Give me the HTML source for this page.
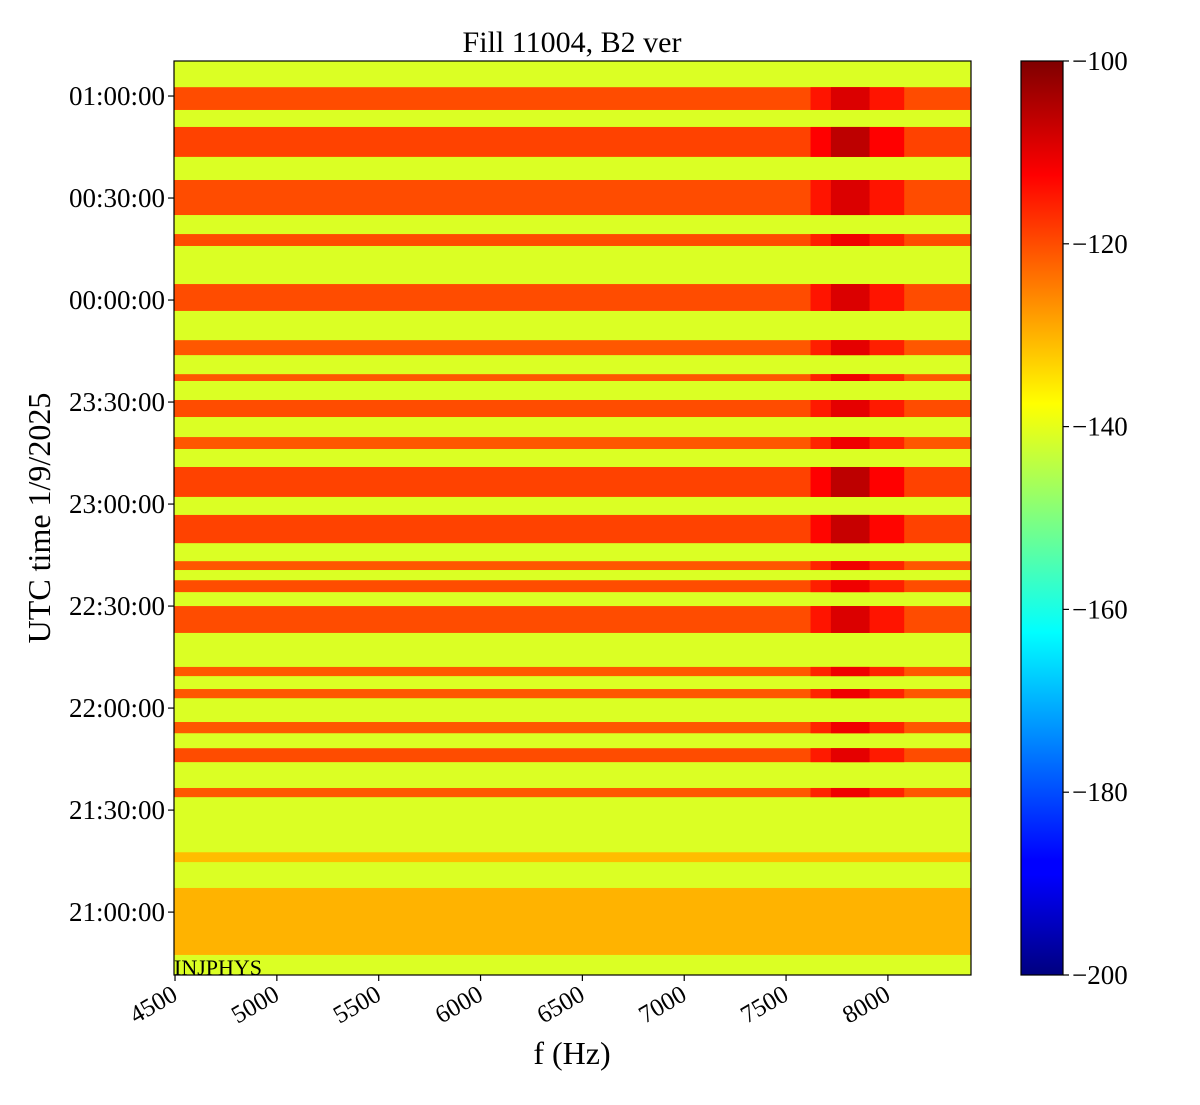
<!DOCTYPE html>
<html><head><meta charset="utf-8"><style>
body{margin:0;background:#fff;}
svg text{font-family:"Liberation Serif","DejaVu Serif",serif;}
</style></head><body>
<svg id="chart" width="1200" height="1100" viewBox="0 0 1200 1100" xmlns="http://www.w3.org/2000/svg">
<defs>
<linearGradient id="jet" x1="0" y1="1" x2="0" y2="0">
<stop offset="0" stop-color="#00007f"/><stop offset="0.11" stop-color="#0000ff"/>
<stop offset="0.125" stop-color="#0000ff"/><stop offset="0.375" stop-color="#00ffff"/>
<stop offset="0.625" stop-color="#ffff00"/><stop offset="0.875" stop-color="#ff0000"/>
<stop offset="1" stop-color="#7f0000"/>
</linearGradient>
<clipPath id="pc"><rect x="174" y="61" width="797" height="914"/></clipPath>
</defs>
<g id="plot" clip-path="url(#pc)"></g>
<rect x="174" y="61" width="797" height="914" fill="none" stroke="#000" stroke-width="1.2"/>
<g id="axes"></g>
<text x="572" y="52" font-size="30" text-anchor="middle">Fill 11004, B2 ver</text>
<text x="572" y="1064" font-size="32" text-anchor="middle">f (Hz)</text>
<text transform="translate(50,518) rotate(-90)" font-size="32" text-anchor="middle">UTC time 1/9/2025</text>
<text x="174" y="975" font-size="22">INJPHYS</text>
<rect x="1021" y="61" width="42" height="914" fill="url(#jet)" stroke="#000" stroke-width="1.2"/>
</svg>
<script>
// data: time in minutes since 20:00 UTC
const bandStart = [295.9,282.1,265.0,255.9,236.8,223.8,216.2,205.6,196.2,182.1,168.5,160.6,154.1,142.1,129.4,122.9,112.6,104.1,93.8,74.7,47.4];
const bandEnd   = [302.6,290.9,275.3,259.4,244.7,228.2,218.2,210.6,199.7,190.9,176.8,163.2,157.6,150.0,132.1,125.6,115.9,108.2,96.5,77.6,67.1];
const bandLevel = [-120,-119,-120,-120,-120,-121,-121,-120,-121,-119,-119,-121,-120,-120,-121,-121,-121,-120,-121,-131,-130];
const hotLevel  = [-109,-106,-109,-111,-109,-110,-111,-110,-111,-106,-107,-111,-111,-109,-111,-111,-111,-110,-111,null,null];
const backgroundLevel = -141;
const hotFreq = [7620, 8080];
const coreFreq = [7720, 7910];
const xTicks = [4500,5000,5500,6000,6500,7000,7500,8000];
const yTicks = [60,90,120,150,180,210,240,270,300];
const yTickLabels = ["21:00:00","21:30:00","22:00:00","22:30:00","23:00:00","23:30:00","00:00:00","00:30:00","01:00:00"];
const cbTicks = [-100,-120,-140,-160,-180,-200];

const X0=174,X1=971,Y0=61,Y1=975;
const fMin=4495,fMax=8408,tMin=41.5,tMax=310.3;
const xs=f=>X0+(f-fMin)/(fMax-fMin)*(X1-X0);
const ys=t=>Y1-(t-tMin)/(tMax-tMin)*(Y1-Y0);
const cs=v=>Y1-(v+200)/100*(Y1-Y0);
function jet(db){const v=Math.max(0,Math.min(1,(db+200)/100));const c=x=>Math.round(255*Math.max(0,Math.min(1,x)));
return `rgb(${c(1.5-Math.abs(4*v-3))},${c(1.5-Math.abs(4*v-2))},${c(1.5-Math.abs(4*v-1))})`;}
const NS="http://www.w3.org/2000/svg";
function mk(tag,attrs,parent){const e=document.createElementNS(NS,tag);for(const k in attrs)e.setAttribute(k,attrs[k]);parent.appendChild(e);return e;}
const plot=document.getElementById('plot'),axes=document.getElementById('axes');
let bg=mk('rect',{x:X0,y:Y0,width:X1-X0,height:Y1-Y0,fill:jet(backgroundLevel)},plot);


bandStart.forEach((s,i)=>{
  const yT=ys(bandEnd[i]),yB=ys(s);
  let r=mk('rect',{x:X0,y:yT,width:X1-X0,height:yB-yT,fill:jet(bandLevel[i])},plot);
  
  
  if(hotLevel[i]!==null){
    let h=mk('rect',{x:xs(hotFreq[0]),y:yT,width:xs(hotFreq[1])-xs(hotFreq[0]),height:yB-yT,fill:jet((hotLevel[i]+bandLevel[i])/2)},plot);
    
    
    let c=mk('rect',{x:xs(coreFreq[0]),y:yT,width:xs(coreFreq[1])-xs(coreFreq[0]),height:yB-yT,fill:jet(hotLevel[i])},plot);
    
    
  }
});
xTicks.forEach(f=>{
  const x=xs(f);
  mk('line',{x1:x,y1:Y1,x2:x,y2:Y1+6,stroke:'#000','stroke-width':1.2},axes);
  const ax=x+4, ay=Y1+24;
  let t=mk('text',{x:ax,y:ay,'font-size':25,'text-anchor':'end',transform:`rotate(-30 ${ax} ${ay})`},axes);
  t.textContent=f;
  
  
});
yTicks.forEach((v,i)=>{
  const y=ys(v);
  mk('line',{x1:X0,y1:y,x2:X0-6,y2:y,stroke:'#000','stroke-width':1.2},axes);
  let t=mk('text',{x:X0-9,y:y+9,'font-size':27,'text-anchor':'end'},axes);
  t.textContent=yTickLabels[i];
  
  
});
cbTicks.forEach(v=>{
  const y=cs(v);
  mk('line',{x1:1063,y1:y,x2:1069,y2:y,stroke:'#000','stroke-width':1.2},axes);
  let t=mk('text',{x:1072,y:y+9,'font-size':27},axes);
  t.textContent='\u2212'+Math.abs(v);
  
  
});
</script>
</body></html>
